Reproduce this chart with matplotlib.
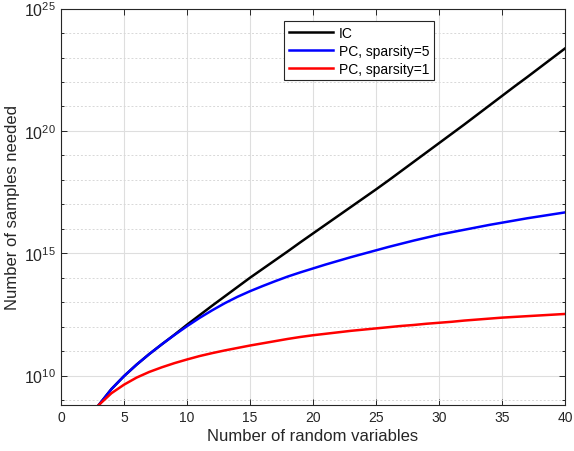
import numpy as np
import matplotlib
matplotlib.use('Agg')
import matplotlib.pyplot as plt
from matplotlib.ticker import FixedLocator, LogFormatterSciNotation, NullFormatter

plt.rcParams['font.family'] = ['Liberation Sans', 'DejaVu Sans']
plt.rcParams['mathtext.default'] = 'regular'

# number of random variables
nVars = list(range(3, 41))

# log10 of samples needed
logIC = [8.8, 9.45, 9.98, 10.45, 10.88, 11.28, 11.67, 12.08, 12.47, 12.86,
         13.24, 13.62, 14.0, 14.36, 14.72, 15.08, 15.45, 15.81, 16.17, 16.53,
         16.89, 17.25, 17.61, 17.98, 18.36, 18.74, 19.12, 19.5, 19.88, 20.26,
         20.65, 21.04, 21.43, 21.82, 22.2, 22.59, 22.98, 23.37]
logPC5 = [8.8, 9.45, 9.98, 10.45, 10.88, 11.28, 11.66, 12.02, 12.36, 12.67,
          12.96, 13.22, 13.45, 13.66, 13.86, 14.05, 14.22, 14.38, 14.54, 14.69,
          14.84, 14.98, 15.12, 15.26, 15.39, 15.52, 15.64, 15.76, 15.86, 15.96,
          16.06, 16.16, 16.25, 16.34, 16.43, 16.51, 16.59, 16.67]
logPC1 = [8.8, 9.28, 9.63, 9.92, 10.15, 10.34, 10.51, 10.66, 10.8, 10.92,
          11.03, 11.13, 11.23, 11.32, 11.41, 11.5, 11.58, 11.65, 11.71, 11.77,
          11.83, 11.88, 11.93, 11.98, 12.03, 12.07, 12.12, 12.16, 12.2, 12.25,
          12.29, 12.33, 12.37, 12.4, 12.43, 12.46, 12.49, 12.52]

labels = ['IC', 'PC, sparsity=5', 'PC, sparsity=1']
colors = ['k', (0, 0, 1), (1, 0, 0)]


def main():
    fig = plt.figure(figsize=(5.74, 4.52), dpi=100)
    ax = fig.add_axes([0.1063, 0.1018, 0.878, 0.877])

    for logVals, label, color in zip([logIC, logPC5, logPC1], labels, colors):
        ax.semilogy(nVars, 10.0 ** np.array(logVals), color=color, lw=1.8, label=label)

    ax.set_xlim(0, 40)
    ax.set_ylim(10 ** 8.8, 1e25)
    ax.set_xticks(range(0, 41, 5))
    ax.yaxis.set_major_locator(FixedLocator([1e10, 1e15, 1e20, 1e25]))
    ax.yaxis.set_major_formatter(LogFormatterSciNotation())
    ax.yaxis.set_minor_locator(FixedLocator([10.0 ** k for k in range(9, 25) if k % 5 != 0]))
    ax.yaxis.set_minor_formatter(NullFormatter())

    ax.grid(True, which='major', color='#dedede', lw=0.8, ls='-')
    ax.grid(True, which='minor', axis='y', color='#d8d8d8', lw=0.7, ls=(0, (2, 2)))
    ax.set_axisbelow(True)

    ax.tick_params(which='both', direction='in', top=True, right=True,
                   colors='#262626', labelsize=10, width=0.7)
    ax.tick_params(axis='y', which='major', labelsize=11.5)
    ax.tick_params(which='major', length=4)
    ax.tick_params(which='minor', length=2.5)
    for spine in ax.spines.values():
        spine.set_color('#262626')
        spine.set_linewidth(0.8)

    ax.set_xlabel('Number of random variables', fontsize=12, color='#262626', labelpad=3)
    ax.set_ylabel('Number of samples needed', fontsize=12, color='#262626', labelpad=3)

    leg = ax.legend(loc='upper left', bbox_to_anchor=(0.442, 0.969), borderaxespad=0,
                    fancybox=False, edgecolor='#262626', framealpha=1, fontsize=10,
                    handlelength=3.2, handletextpad=0.4, labelspacing=0.28, borderpad=0.35)
    leg.get_frame().set_linewidth(0.8)

    fig.savefig('out.png', dpi=100)


if __name__ == "__main__":
    main()
